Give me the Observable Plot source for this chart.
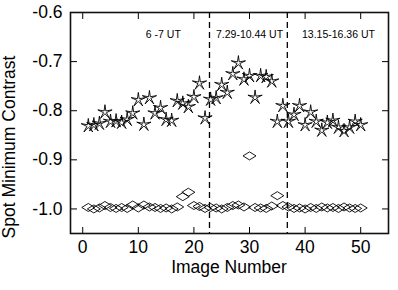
<!DOCTYPE html>
<html>
<head>
<meta charset="utf-8">
<script src="https://cdn.jsdelivr.net/npm/d3@7"></script>
<script src="https://cdn.jsdelivr.net/npm/@observablehq/plot@0.6"></script>
<style>
  html, body { margin: 0; padding: 0; background: #fff; }
  #chart { width: 398px; height: 290px; }
  svg { font-family: "Liberation Sans", Arial, sans-serif; }
</style>
</head>
<body>
<div id="chart"></div>
<script>
const images = [1,2,3,4,5,6,7,8,9,10,11,12,13,14,15,16,17,18,19,20,21,22,23,24,25,
  26,27,28,29,30,31,32,33,34,35,36,37,38,39,40,41,42,43,44,45,46,47,48,49,50];
const starValues = [-0.831,-0.829,-0.826,-0.803,-0.822,-0.821,-0.824,-0.818,-0.805,-0.778,
  -0.828,-0.774,-0.805,-0.794,-0.818,-0.820,-0.780,-0.785,-0.792,-0.772,
  -0.744,-0.815,-0.777,-0.774,-0.747,-0.763,-0.725,-0.703,-0.736,-0.729,
  -0.773,-0.729,-0.731,-0.740,-0.822,-0.790,-0.822,-0.808,-0.790,-0.829,
  -0.803,-0.822,-0.840,-0.824,-0.820,-0.834,-0.841,-0.834,-0.822,-0.829];
const diamondValues = [-0.997,-1.000,-0.998,-0.993,-0.997,-0.999,-0.997,-0.999,-0.992,-0.998,
  -0.992,-0.996,-0.997,-0.999,-0.998,-1.000,-0.996,-0.975,-0.966,-0.993,
  -0.995,-0.999,-0.997,-0.998,-1.000,-0.997,-0.993,-0.992,-0.996,-0.892,
  -0.997,-0.998,-0.999,-0.994,-0.973,-0.993,-0.996,-0.999,-0.998,-1.000,
  -0.997,-0.999,-0.996,-0.998,-0.997,-0.999,-0.996,-0.998,-0.999,-0.998];
const dividers = [22.8, 36.8];
const periodLabels = ["6 -7 UT", "7.29-10.44 UT", "13.15-16.36 UT"];
const periodCenters = [14.5, 30, 46];
const xTicks = [0, 10, 20, 30, 40, 50];
const yTicks = [-0.6, -0.7, -0.8, -0.9, -1.0];
const yTicksRight = [-0.7, -0.8, -0.9, -1.0];

const stars = images.map((d, i) => ({x: d, y: starValues[i]}));
const diamonds = images.map((d, i) => ({x: d, y: diamondValues[i]}));
const periods = periodLabels.map((t, i) => ({x: periodCenters[i], text: t}));

const thinStar = {
  draw(ctx, size) {
    const R = Math.sqrt(size / Math.PI);
    const r = R * 0.2;
    for (let i = 0; i < 10; i++) {
      const a = i * Math.PI / 5 - Math.PI / 2;
      const rr = i % 2 ? r : R;
      const px = rr * Math.cos(a), py = rr * Math.sin(a);
      if (i === 0) ctx.moveTo(px, py); else ctx.lineTo(px, py);
    }
    ctx.closePath();
  }
};
const wideDiamond = {
  draw(ctx, size) {
    const R = Math.sqrt(size / Math.PI);
    const h = R * 0.62;
    ctx.moveTo(-R, 0); ctx.lineTo(0, -h); ctx.lineTo(R, 0); ctx.lineTo(0, h); ctx.closePath();
  }
};

const fmt = d => d.toFixed(1);

const chart = Plot.plot({
  width: 398,
  height: 290,
  marginLeft: 70,
  marginRight: 10,
  marginTop: 12,
  marginBottom: 57,
  style: {fontFamily: "'Liberation Sans', Arial, sans-serif", background: "#fff"},
  x: {domain: [-2.2, 55]},
  y: {domain: [-1.05, -0.6]},
  marks: [
    Plot.axisY({ticks: yTicks, tickSize: 0, tickPadding: 8, tickFormat: fmt, label: null, fontSize: 17.5, fill: "#000"}),
    Plot.axisY({ticks: yTicks, tickSize: -7, tickFormat: () => "", label: null, stroke: "#000"}),
    Plot.axisY({anchor: "right", ticks: yTicksRight, tickSize: -7, tickFormat: () => "", label: null, stroke: "#000"}),
    Plot.axisX({ticks: xTicks, tickSize: 0, tickPadding: 7, label: null, fontSize: 17.5, fill: "#000"}),
    Plot.axisX({ticks: xTicks, tickSize: -6, tickFormat: () => "", label: null, stroke: "#000"}),
    Plot.axisX({anchor: "top", ticks: xTicks, tickSize: -6, tickFormat: () => "", label: null, stroke: "#000"}),
    Plot.frame({stroke: "#111", strokeWidth: 1.6}),
    Plot.ruleX(dividers, {stroke: "#000", strokeWidth: 1.3, strokeDasharray: "6,4"}),
    Plot.text(periods, {x: "x", y: -0.645, text: "text", fontSize: 10.5, fill: "#000"}),
    Plot.dot(diamonds, {x: "x", y: "y", symbol: wideDiamond, r: 6.5, fill: "none", stroke: "#000", strokeWidth: 0.9}),
    Plot.dot(stars, {x: "x", y: "y", symbol: thinStar, r: 7.5, fill: "none", stroke: "#000", strokeWidth: 0.9})
  ]
});

const wrap = document.getElementById("chart");
wrap.appendChild(chart);

const svg = d3.select(chart);
svg.append("text")
  .attr("x", 229).attr("y", 273)
  .attr("text-anchor", "middle")
  .attr("font-size", 17.5)
  .attr("fill", "#000")
  .text("Image Number");
svg.append("text")
  .attr("transform", "translate(15,147) rotate(-90)")
  .attr("text-anchor", "middle")
  .attr("font-size", 17.5)
  .attr("fill", "#000")
  .text("Spot Minimum Contrast");
</script>
</body>
</html>
